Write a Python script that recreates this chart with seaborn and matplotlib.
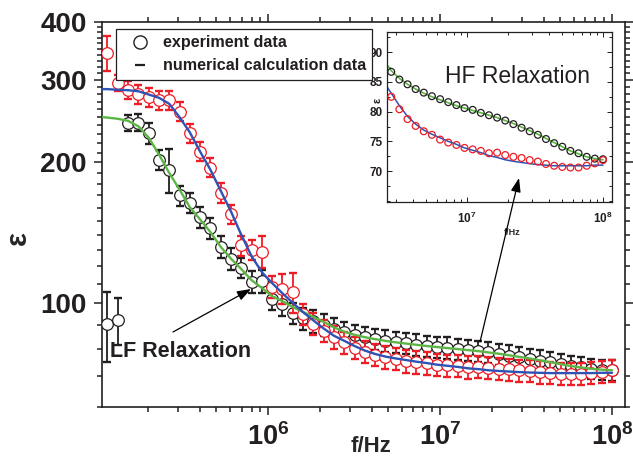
import matplotlib
matplotlib.use("Agg")
import numpy as np
import matplotlib.pyplot as plt
import seaborn as sns
from matplotlib.lines import Line2D
from matplotlib.ticker import FixedLocator, NullFormatter, LogLocator, FuncFormatter

# ---- measured permittivity spectra (frequency in Hz) ----
freq_hz = [1.161e5, 1.334e5, 1.531e5, 1.758e5, 2.018e5, 2.317e5, 2.657e5, 3.050e5,
           3.501e5, 4.019e5, 4.613e5, 5.296e5, 6.080e5, 6.979e5, 8.012e5, 9.198e5,
           1.055e6, 1.211e6, 1.390e6, 1.596e6, 1.832e6, 2.104e6, 2.415e6, 2.772e6,
           3.182e6, 3.653e6, 4.190e6, 4.810e6, 5.520e6, 6.340e6, 7.280e6, 8.360e6,
           9.590e6, 1.101e7, 1.264e7, 1.450e7, 1.665e7, 1.911e7, 2.194e7, 2.519e7,
           2.891e7, 3.319e7, 3.810e7, 4.374e7, 5.020e7, 5.760e7, 6.610e7, 7.590e7,
           8.710e7, 1.000e8]

eps_black = [90.2, 91.9, 243, 243.5, 231, 202.5, 193, 170, 164, 153, 145, 132, 124.5,
             119, 111, 111.5, 102, 99.5, 95.2, 92.8, 91.5, 90, 88.2,
             86.7, 85.4, 84.6, 83.8, 83.2, 82.6, 82.1, 81.6, 81.1, 80.6, 80.3, 79.8,
             79.4, 79.0, 78.5, 77.9, 77.3, 76.7, 76.1, 75.4, 74.7, 74.1, 73.4, 73.0,
             72.4, 72.1, 72.0]
err_black = [15.5, 10.5, 10, 10, 12, 10, 20.5, 8.5, 8, 8, 7.5, 7, 6.5, 6, 6, 6.5,
             5.5, 5.5, 5, 5, 5, 4.8, 4.7,
             4.6, 4.5, 4.5, 4.4, 4.4, 4.3, 4.3, 4.3, 4.2, 4.2, 4.2, 4.1, 4.1, 4.1,
             4.0, 4.0, 4.0, 3.9, 3.9, 3.9, 3.8, 3.8, 3.8, 3.7, 3.7, 3.7, 3.7]

eps_red = [343, 296, 286, 280, 276, 272, 272, 257, 231, 211, 195, 172, 155, 133, 130,
           129, 108.5, 107.5, 105.6, 94.7, 90.3, 87.3, 84.6,
           82.5, 80.4, 78.75, 77.6, 76.7, 76.1, 75.3, 74.8, 74.4, 73.9, 73.65, 73.4,
           73.0, 73.1, 72.7, 72.4, 72.2, 71.85, 71.6, 71.2, 70.9, 70.7, 70.6, 70.6,
           70.9, 71.3, 71.85]
err_red = [29, 12, 13, 13, 13, 13, 13, 12, 11, 10, 9, 8.5, 7.5, 6.5, 6.5, 10, 6, 8,
           10.5, 5, 4.8, 4.7, 4.6,
           4.5, 4.4, 4.3, 4.3, 4.2, 4.2, 4.2, 4.1, 4.1, 4.1, 4.0, 4.0, 4.0, 4.0, 4.0,
           3.9, 3.9, 3.9, 3.9, 3.9, 3.8, 3.8, 3.8, 3.8, 3.8, 3.8, 3.9]

# ---- numerical calculation curves ----
fit_freq_hz = [1.08e5] + freq_hz
fit_green = [250, 249.5, 248, 245.5, 239, 226, 208, 190, 175, 160.5, 151, 142, 132,
             124.5, 118.3, 112, 107.8, 103.5, 101, 98.2, 95.8, 93.5, 91.2, 88.8, 86.9,
             85.6, 84.6, 83.8, 83.1, 82.5, 82.0, 81.5, 81.0, 80.6, 80.2, 79.8, 79.4,
             79.0, 78.5, 78.0, 77.4, 76.8, 76.2, 75.5, 74.8, 74.1, 73.4, 72.9, 72.4,
             72.1, 71.9]
fit_blue = [287, 287, 286, 285.5, 284, 279.5, 275, 267, 250, 232, 211, 193, 174, 157,
            140, 126, 116.5, 110.4, 105, 100.2, 95.7, 91.9, 88.3, 85.2, 83.1, 81.0,
            79.2, 77.9, 76.9, 76.2, 75.6, 75.0, 74.5, 73.9, 73.5, 73.1, 72.6, 72.3,
            71.9, 71.65, 71.45, 71.25, 71.1, 71.0, 70.9, 70.9, 70.9, 70.9, 70.9, 71.0,
            71.0]

main_yticks = [100, 200, 300, 400]
inset_yticks = [70, 75, 80, 85, 90]

BLACK = "#231f20"
RED = "#ee1c25"
BLUE = "#2f52b4"
GREEN = "#5cb544"

sns.set_theme(style="ticks")
plt.rcParams["font.family"] = ["Liberation Sans", "DejaVu Sans"]
plt.rcParams["mathtext.fontset"] = "custom"
plt.rcParams["mathtext.rm"] = "Liberation Sans"
plt.rcParams["mathtext.bf"] = "Liberation Sans:bold"
plt.rcParams["mathtext.it"] = "Liberation Sans:italic"
plt.rcParams["axes.edgecolor"] = BLACK
plt.rcParams["text.color"] = BLACK
plt.rcParams["xtick.color"] = BLACK
plt.rcParams["ytick.color"] = BLACK

W, H = 633, 459
fig = plt.figure(figsize=(W / 100, H / 100), dpi=100)


def fx(px):
    return px / W


def fy(py):
    return 1 - py / H


def pow10_label(v, _pos):
    return r"$\mathbf{10^{%d}}$" % int(round(np.log10(v)))


# ---------------- main axes ----------------
ax = fig.add_axes([fx(102), fy(407), fx(625) - fx(102), fy(21.7) - fy(407)])
ax.set_xscale("log")
ax.set_yscale("log")

ax.errorbar(freq_hz, eps_black, yerr=err_black, fmt="none", ecolor=BLACK,
            elinewidth=1.3, capsize=3, capthick=1.7, zorder=2)
sns.scatterplot(x=freq_hz, y=eps_black, ax=ax, marker="o", s=70, facecolor="white",
                edgecolor=BLACK, linewidth=0.9, zorder=3)
ax.errorbar(freq_hz, eps_red, yerr=err_red, fmt="none", ecolor=RED,
            elinewidth=1.3, capsize=3, capthick=1.7, zorder=3.5)
sns.scatterplot(x=freq_hz, y=eps_red, ax=ax, marker="o", s=70, facecolor="white",
                edgecolor=RED, linewidth=0.9, zorder=4)
sns.lineplot(x=fit_freq_hz, y=fit_green, ax=ax, color=GREEN, lw=1.7, zorder=5)
sns.lineplot(x=fit_freq_hz, y=fit_blue, ax=ax, color=BLUE, lw=1.7, zorder=5)

ax.set_xlim(1.08e5, 1.19e8)
ax.set_ylim(60, 400)
ax.xaxis.set_major_locator(LogLocator(base=10))
ax.xaxis.set_minor_locator(LogLocator(base=10, subs=np.arange(2, 10)))
ax.xaxis.set_major_formatter(FuncFormatter(pow10_label))
ax.xaxis.set_minor_formatter(NullFormatter())
ax.yaxis.set_major_locator(FixedLocator(main_yticks))
ax.yaxis.set_minor_locator(FixedLocator([v for v in range(60, 400, 10) if v not in main_yticks]))
ax.yaxis.set_major_formatter(FuncFormatter(lambda v, p: "%d" % v))
ax.yaxis.set_minor_formatter(NullFormatter())

for s in ax.spines.values():
    s.set_linewidth(1.2)
ax.tick_params(which="both", direction="out", top=True, right=True,
               labeltop=False, labelright=False, width=1.1)
ax.tick_params(which="major", length=6, pad=4)
ax.tick_params(which="minor", length=3.5)
ax.tick_params(axis="y", which="major", labelsize=20, pad=5)
ax.tick_params(axis="x", which="major", labelsize=19.5, pad=6)
for t in ax.get_yticklabels():
    t.set_fontweight("bold")

ax.set_xlabel("f/Hz", fontsize=16, fontweight="bold")
ax.xaxis.set_label_coords((371 - 102) / 523, (407 - 436) / 385)
ax.set_ylabel("ε", fontsize=21, fontweight="bold")
ax.yaxis.set_label_coords((32 - 102) / 523, (407 - 238) / 385)

ax.text(fx(110), fy(357), "LF Relaxation", transform=fig.transFigure,
        fontsize=15.5, fontweight="bold", ha="left", va="baseline", zorder=6)
ax.annotate("", xy=(fx(251), fy(289)), xytext=(fx(173), fy(332)),
            xycoords="figure fraction", textcoords="figure fraction",
            arrowprops=dict(arrowstyle="-|>,head_length=0.7,head_width=0.25",
                            color="black", lw=0.9, shrinkA=0, shrinkB=0))

# ---------------- inset: HF relaxation ----------------
axin = fig.add_axes([fx(387), fy(202), fx(612) - fx(387), fy(32) - fy(202)])
axin.set_xscale("log")
sns.lineplot(x=fit_freq_hz, y=fit_green, ax=axin, color=GREEN, lw=1.2, zorder=2)
sns.lineplot(x=fit_freq_hz, y=fit_blue, ax=axin, color=BLUE, lw=1.1, zorder=2)
sns.scatterplot(x=freq_hz, y=eps_black, ax=axin, marker="o", s=24, facecolor="none",
                edgecolor=BLACK, linewidth=0.9, zorder=3)
sns.scatterplot(x=freq_hz, y=eps_red, ax=axin, marker="o", s=24, facecolor="none",
                edgecolor=RED, linewidth=0.9, zorder=3)
axin.set_xlim(2.58e6, 1.165e8)
axin.set_ylim(64.8, 93.4)
axin.xaxis.set_major_locator(LogLocator(base=10))
axin.xaxis.set_minor_locator(LogLocator(base=10, subs=np.arange(2, 10)))
axin.xaxis.set_major_formatter(FuncFormatter(pow10_label))
axin.xaxis.set_minor_formatter(NullFormatter())
axin.yaxis.set_major_locator(FixedLocator(inset_yticks))
axin.yaxis.set_minor_locator(FixedLocator([65, 67.5, 72.5, 77.5, 82.5, 87.5, 92.5]))
axin.yaxis.set_major_formatter(FuncFormatter(lambda v, p: "%d" % v))
for s in axin.spines.values():
    s.set_linewidth(0.9)
axin.tick_params(which="both", direction="in", top=True, right=True, width=0.7)
axin.tick_params(which="major", length=3.5, labelsize=8.5, pad=3)
axin.tick_params(which="minor", length=2)
axin.tick_params(axis="x", which="major", pad=6)
for t in axin.get_yticklabels():
    t.set_fontweight("bold")
axin.set_xlabel("f/Hz", fontsize=6.5, fontweight="bold")
axin.xaxis.set_label_coords((512 - 387) / 225, (202 - 228) / 170)
axin.set_ylabel("")
fig.text(fx(383), fy(100), "ε", fontsize=8, fontweight="bold", rotation=90,
         ha="right", va="center")
axin.text(0.58, 0.74, "HF Relaxation", transform=axin.transAxes, fontsize=16.5,
          ha="center", va="center")
axin.annotate("", xy=(fx(519), fy(178)), xytext=(fx(480), fy(342)),
              xycoords="figure fraction", textcoords="figure fraction",
              annotation_clip=False,
              arrowprops=dict(arrowstyle="-|>,head_length=0.7,head_width=0.25",
                              color="black", lw=0.9, shrinkA=0, shrinkB=0))

# ---------------- legend ----------------
handles = [
    Line2D([], [], marker="o", ls="none", mfc="white", mec=BLACK, ms=9.5, mew=1.0),
    Line2D([], [], marker="_", ls="none", color=BLACK, ms=7, mew=1.6),
]
leg = fig.legend(handles, ["experiment data", "numerical calculation data"],
                 loc="upper left", bbox_to_anchor=(fx(116), fy(29)),
                 prop={"weight": "bold", "size": 11.6}, frameon=True, fancybox=False,
                 framealpha=1, edgecolor=BLACK, borderpad=0.4, handlelength=2.2,
                 handletextpad=0.3, labelspacing=0.5, borderaxespad=0)
leg.get_frame().set_linewidth(0.9)

fig.savefig("out.png", dpi=100)
